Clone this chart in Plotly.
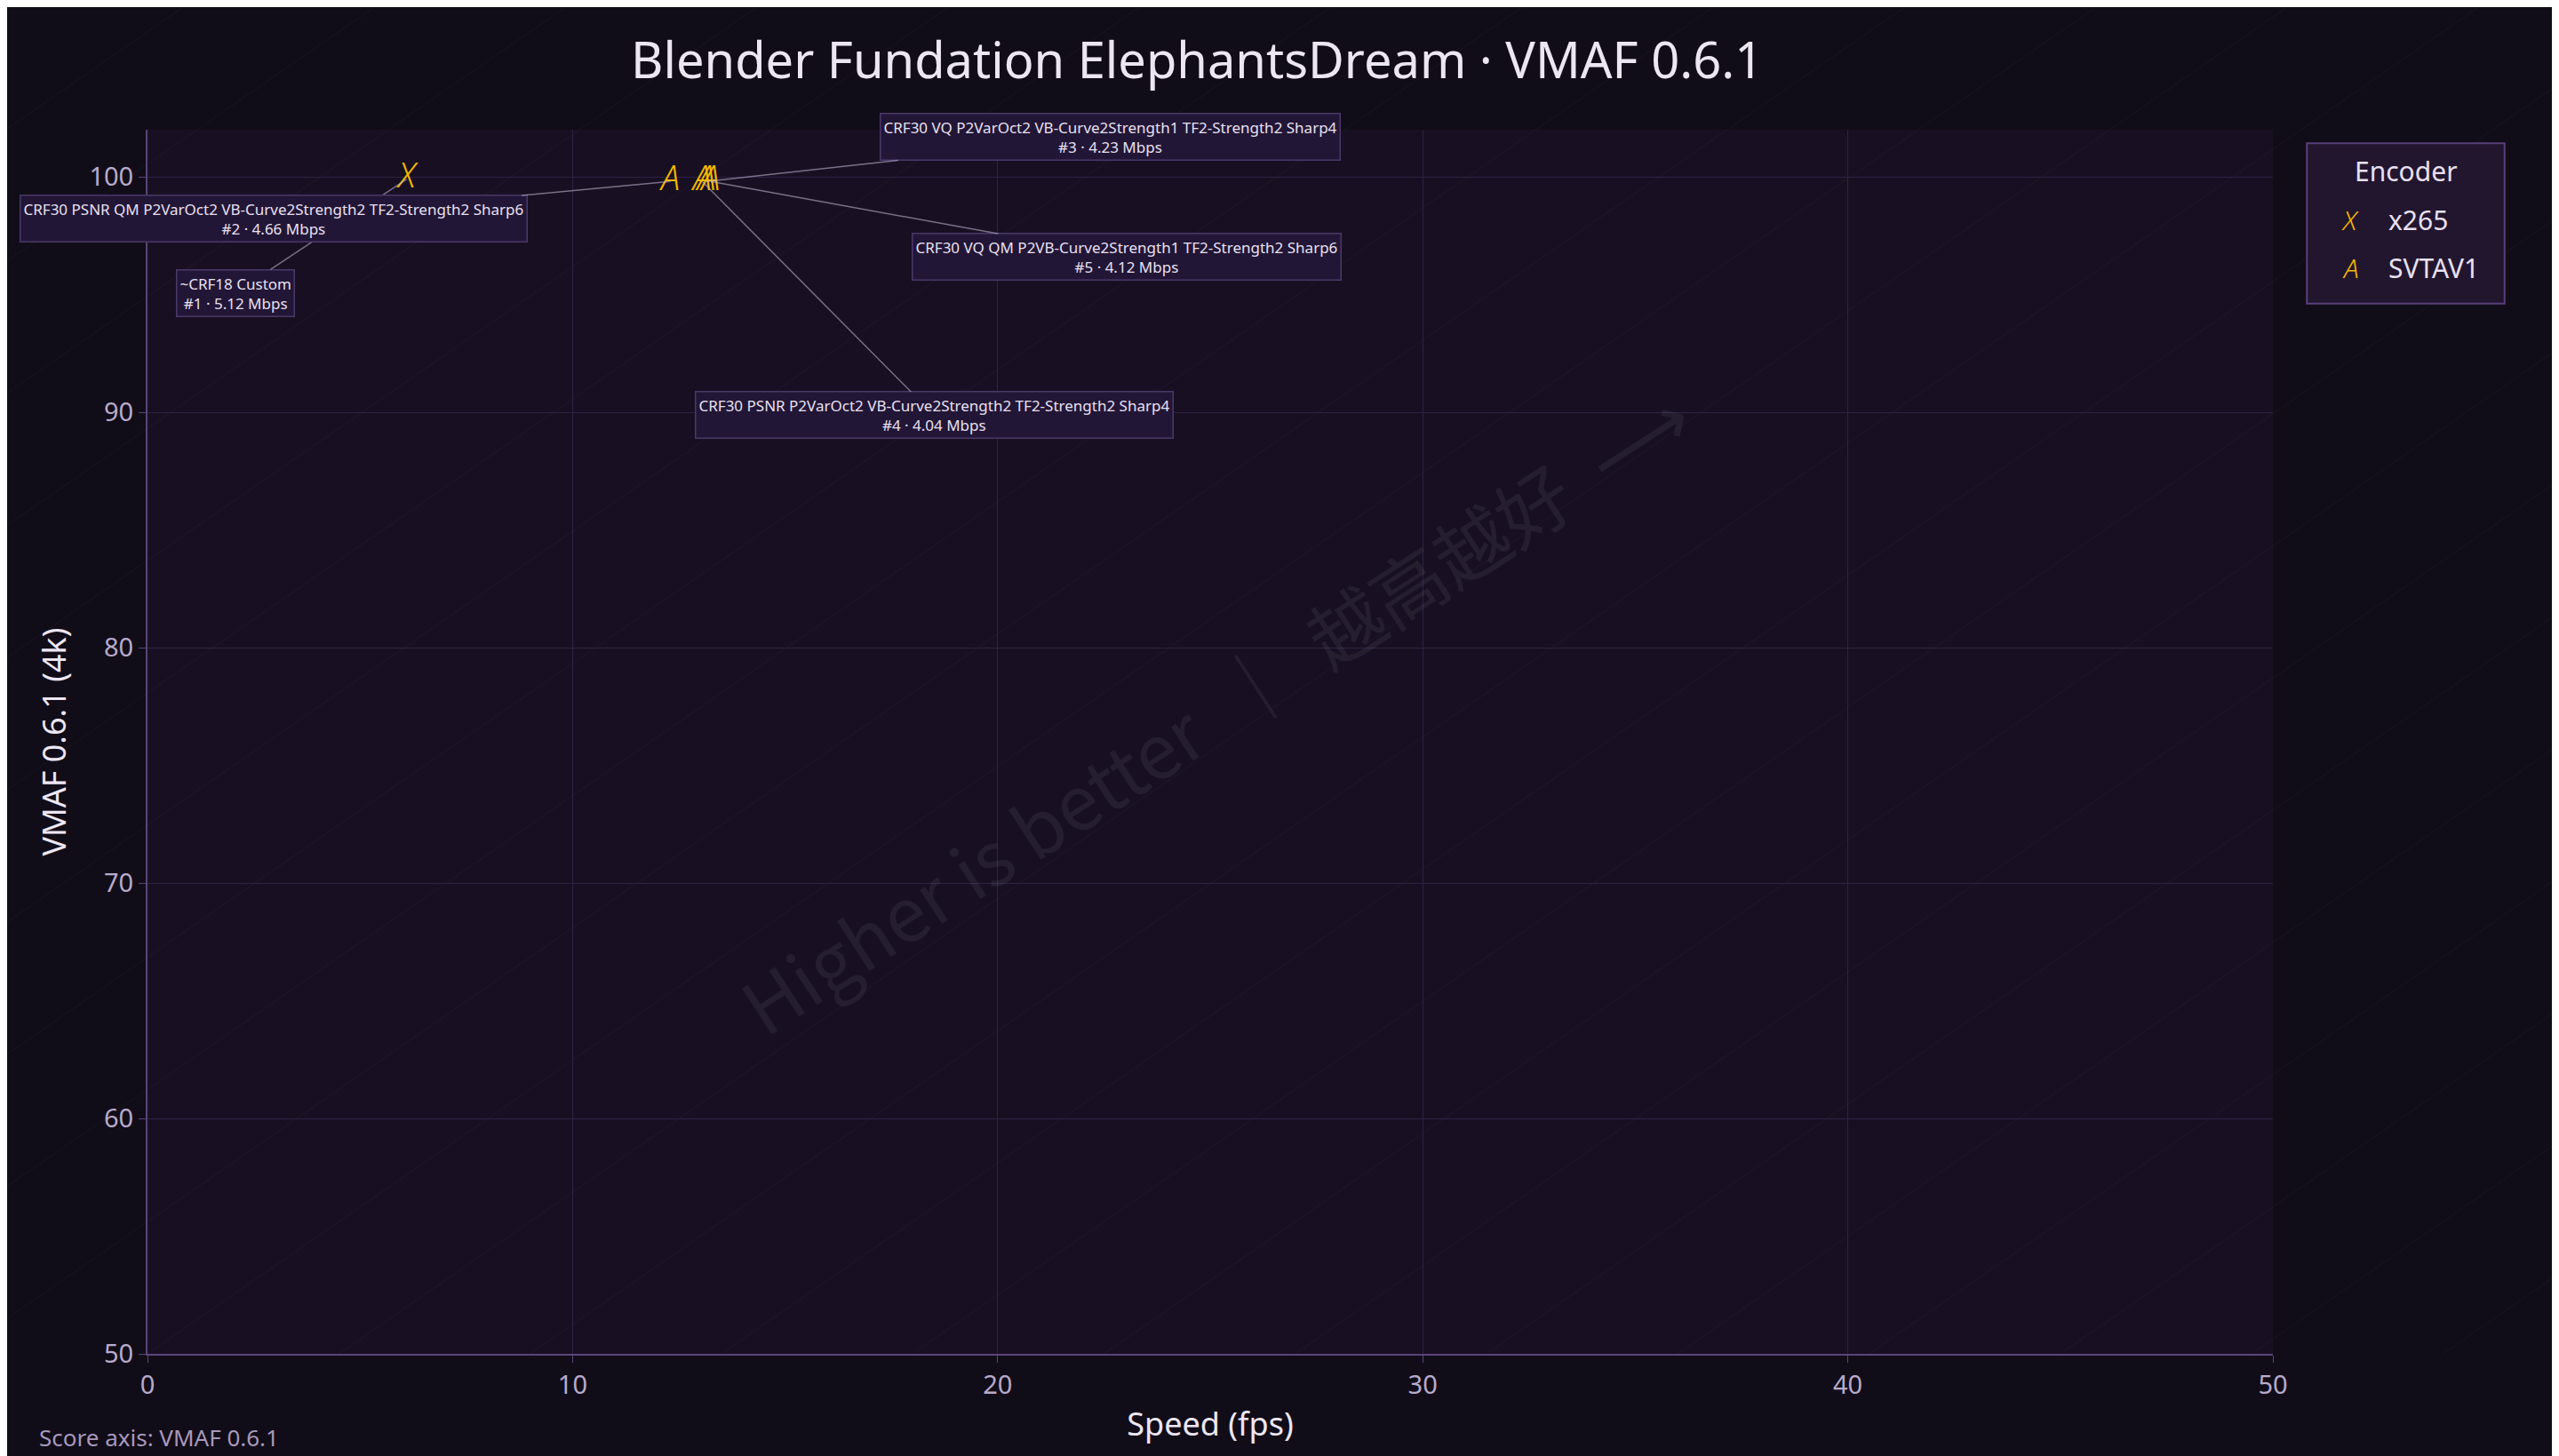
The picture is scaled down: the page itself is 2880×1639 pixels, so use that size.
import plotly.graph_objects as go

x265_speed = [6.1]
x265_vmaf = [99.9]
av1_speed = [12.3, 13.05, 13.15, 13.25]
av1_vmaf = [99.8, 99.8, 99.8, 99.8]

labels = [
    ("~CRF18 Custom<br>#1 · 5.12 Mbps", 6.1, 99.9, -193, 128),
    ("CRF30 PSNR QM P2VarOct2 VB-Curve2Strength2 TF2-Strength2 Sharp6<br>#2 · 4.66 Mbps", 12.3, 99.8, -446, 42),
    ("CRF30 VQ P2VarOct2 VB-Curve2Strength1 TF2-Strength2 Sharp4<br>#3 · 4.23 Mbps", 13.15, 99.8, 454, -50),
    ("CRF30 PSNR P2VarOct2 VB-Curve2Strength2 TF2-Strength2 Sharp4<br>#4 · 4.04 Mbps", 13.05, 99.8, 261, 263),
    ("CRF30 VQ QM P2VB-Curve2Strength1 TF2-Strength2 Sharp6<br>#5 · 4.12 Mbps", 13.25, 99.8, 468, 85),
]

FONT = "Noto Sans"
GOLD = "#f5b800"
fig = go.Figure()
fig.add_trace(go.Scatter(x=x265_speed, y=x265_vmaf, mode="text", text=["<i>X</i>"] * len(x265_speed),
                         textfont=dict(color=GOLD, size=38, family=FONT, weight=300), name="x265", showlegend=False))
fig.add_trace(go.Scatter(x=av1_speed, y=av1_vmaf, mode="text", text=["<i>A</i>"] * len(av1_speed),
                         textfont=dict(color=GOLD, size=38, family=FONT, weight=300), name="SVTAV1", showlegend=False))

anns = []
for t, x, y, ax, ay in labels:
    anns.append(dict(x=x, y=y, text=t, showarrow=True, arrowhead=0, arrowwidth=1.5, arrowcolor="rgba(200,190,220,0.55)",
                     ax=ax, ay=ay, font=dict(size=17, color="#e8e0f0", family=FONT),
                     bgcolor="#221636", bordercolor="#4a3868", borderwidth=1.5, borderpad=3))
anns.append(dict(x=25.1, y=77.4, text="Higher is better  ｜  越高越好  ⟶", showarrow=False, textangle=-33,
                 font=dict(size=84, color="rgba(255,255,255,0.06)", family="Noto Sans CJK SC")))
anns.append(dict(xref="paper", yref="paper", x=-0.052, y=-0.068, xanchor="left", yanchor="middle", showarrow=False,
                 text="Score axis: VMAF 0.6.1", font=dict(size=26, color="#a898bb", family=FONT)))
# legend
anns.append(dict(xref="paper", yref="paper", x=1.0625, y=0.966, xanchor="center", yanchor="middle", text="Encoder",
                 showarrow=False, font=dict(size=30, color="#e8e0f0", family=FONT)))
for i, (sym, name) in enumerate([("X", "x265"), ("A", "SVTAV1")]):
    yy = 0.926 - i * 0.039
    anns.append(dict(xref="paper", yref="paper", x=1.0365, y=yy, xanchor="center", yanchor="middle",
                     text="<i>" + sym + "</i>", showarrow=False,
                     font=dict(size=30, color=GOLD, family=FONT, weight=300)))
    anns.append(dict(xref="paper", yref="paper", x=1.0535, y=yy, text=name, showarrow=False, xanchor="left",
                     yanchor="middle", font=dict(size=30, color="#e8e0f0", family=FONT)))

shapes = [dict(type="rect", xref="paper", yref="paper", x0=1.016, x1=1.109, y0=0.858, y1=0.989,
               fillcolor="#22162f", line=dict(color="#5a3f7a", width=2))]
for k in range(-12, 14):
    x0 = k * 0.09
    shapes.append(dict(type="line", xref="paper", yref="paper", x0=x0, y0=0, x1=x0 + 1.0, y1=1.2,
                       line=dict(color="rgba(255,255,255,0.018)", width=2), layer="below"))

fig.update_layout(
    width=2880, height=1639,
    paper_bgcolor="#110d18", plot_bgcolor="#181022",
    margin=dict(l=158, r=330, t=138, b=123),
    title=dict(text="Blender Fundation ElephantsDream · VMAF 0.6.1", x=0.465, xanchor="center", y=0.975,
               font=dict(size=56, color="#ece6f4", family=FONT)),
    xaxis=dict(range=[0, 50], dtick=10, title=dict(text="Speed (fps)", font=dict(size=36, color="#ece6f4", family=FONT)),
               tickfont=dict(size=29, color="#b8aacc", family=FONT), gridcolor="#2e2242", zeroline=False,
               showline=True, linecolor="#5a4478", linewidth=2, ticks="outside", tickcolor="#5a4478", ticklen=8),
    yaxis=dict(range=[50, 102], dtick=10, title=dict(text="VMAF 0.6.1 (4k)", font=dict(size=36, color="#ece6f4", family=FONT)),
               tickfont=dict(size=29, color="#b8aacc", family=FONT), gridcolor="#2e2242", zeroline=False,
               showline=True, linecolor="#5a4478", linewidth=2, ticks="outside", tickcolor="#5a4478", ticklen=8),
    annotations=anns, shapes=shapes, showlegend=False,
)
fig.write_html("out.html")
